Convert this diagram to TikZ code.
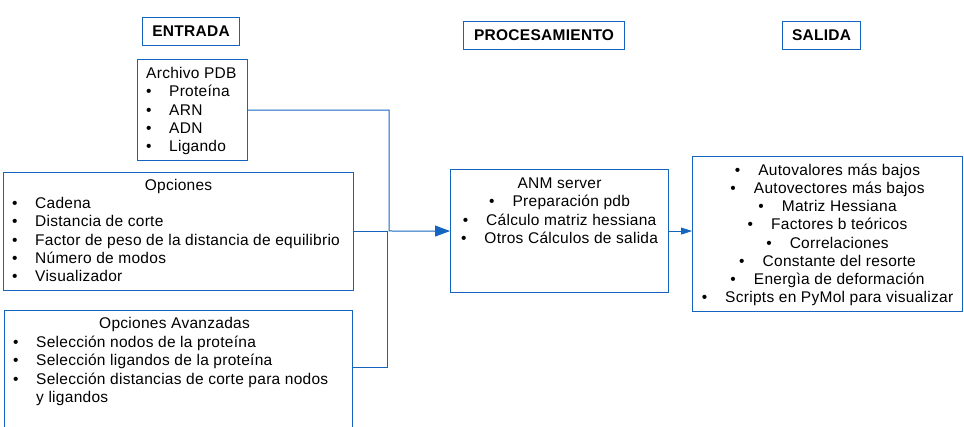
\documentclass[tikz,border=0pt]{standalone}
\usepackage{fontspec}
\setmainfont{Liberation Sans}[LetterSpace=1.8]
\usetikzlibrary{arrows.meta}

\definecolor{boxblue}{RGB}{21,101,192}
\newcommand{\boxfont}{\fontsize{15.5}{18.3}\selectfont}
\newcommand{\itm}[1]{\makebox[23pt][l]{\textbullet}#1}
\newcommand{\citm}[1]{\textbullet\hspace{18pt}#1}

\tikzset{
  box/.style={draw=boxblue, line width=1.1pt, inner sep=0pt, anchor=north west},
  head/.style={box, font=\boxfont\bfseries, minimum height=28pt},
  txt/.style={inner sep=0pt},
  link/.style={draw=boxblue, line width=1pt},
}

\begin{document}
\begin{tikzpicture}[x=1pt, y=-1pt, font=\boxfont]
\useasboundingbox (0,0) rectangle (964,427);

% header boxes
\node[head, minimum width=97pt] (entrada) at (142,17) {ENTRADA};
\node[head, minimum width=161pt] (proc) at (463,21) {PROCESAMIENTO};
\node[head, minimum width=78pt] (salida) at (782,21) {SALIDA};

% input boxes
\node[box, minimum width=110pt, minimum height=101pt] (pdb) at (137,59) {};
\node[box, minimum width=350pt, minimum height=118pt] (opc) at (3,172) {};
\node[box, minimum width=348pt, minimum height=122pt] (adv) at (4,310) {};

% processing and output boxes
\node[box, minimum width=218pt, minimum height=123pt] (anm) at (450,169) {};
\node[box, minimum width=270pt, minimum height=155pt] (out) at (692,156) {};

% texts of the input boxes
\node[txt, anchor=base west] (pdbtxt) at ([xshift=9pt,yshift=-19.5pt]pdb.north west)
  {\begin{tabular}[t]{@{}l@{}}
   Archivo PDB\\ \itm{Proteína}\\ \itm{ARN}\\ \itm{ADN}\\ \itm{Ligando}
   \end{tabular}};

\node[txt, anchor=base] (opctitle) at ([yshift=-18.5pt]opc.north) {Opciones};
\node[txt, anchor=base west] (opctxt) at ([xshift=9pt,yshift=-36.5pt]opc.north west)
  {\begin{tabular}[t]{@{}l@{}}
   \itm{Cadena}\\ \itm{Distancia de corte}\\
   \itm{Factor de peso de la distancia de equilibrio}\\
   \itm{Número de modos}\\ \itm{Visualizador}
   \end{tabular}};

\node[txt, anchor=base] (advtitle) at ([xshift=-4pt,yshift=-18.5pt]adv.north) {Opciones Avanzadas};
\node[txt, anchor=base west] (advtxt) at ([xshift=9pt,yshift=-37.5pt]adv.north west)
  {\begin{tabular}[t]{@{}l@{}}
   \itm{Selección nodos de la proteína}\\
   \itm{Selección ligandos de la proteína}\\
   \itm{Selección distancias de corte para nodos}\\
   \hspace{23pt}y ligandos
   \end{tabular}};

% texts of the processing and output boxes
\node[txt, anchor=base] (anmtxt) at ([yshift=-19.5pt]anm.north)
  {\begin{tabular}[t]{@{}c@{}}
   ANM server\\ \citm{Preparación pdb}\\
   \citm{Cálculo matriz hessiana}\\ \citm{Otros Cálculos de salida}
   \end{tabular}};

\node[txt, anchor=base] (outtxt) at ([yshift=-19.5pt]out.north)
  {\fontsize{15.5}{18.15}\selectfont
   \begin{tabular}[t]{@{}c@{}}
   \citm{Autovalores más bajos}\\ \citm{Autovectores más bajos}\\
   \citm{Matriz Hessiana}\\ \citm{Factores b teóricos}\\
   \citm{Correlaciones}\\ \citm{Constante del resorte}\\
   \citm{Energìa de deformación}\\ \citm{Scripts en PyMol para visualizar}
   \end{tabular}};

% connectors
\coordinate (join) at (389,231);
\coordinate (split) at (387,368);
\draw[link, -{Triangle[length=15pt,width=11pt]}] (pdb.east) -| (join) -- (anm.west);
\draw[link] (opc.east) -| (split) -- (split -| adv.east);
\draw[link, line width=0.8pt, -{Triangle[length=11pt,width=7pt]}] (anm.east) -- (anm.east -| out.west);

\end{tikzpicture}
\end{document}
